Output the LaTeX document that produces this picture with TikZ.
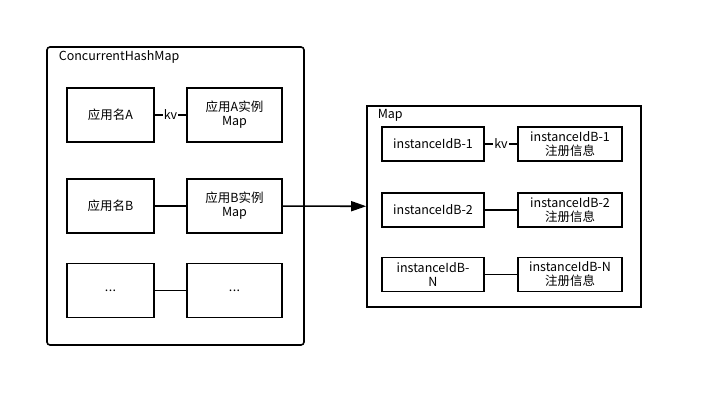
\documentclass[tikz,border=0pt]{standalone}
\usepackage{fontspec}
\setmainfont{Noto Sans CJK SC}
\usepackage{tikz}
\usetikzlibrary{positioning,arrows.meta}

\newcommand{\etcdots}{.\kern0.5pt.\kern0.5pt.}

\tikzset{
	every box/.style={draw, line width=1.6pt, inner sep=1pt, align=center,
		font=\fontsize{12.5}{14}\selectfont},
	app box/.style={every box/.try, minimum width=87pt, minimum height=54pt},
	appmap box/.style={every box/.try, minimum width=95pt, minimum height=54pt},
	key box/.style={every box/.try, minimum width=102pt, minimum height=34pt},
	info box/.style={every box/.try, minimum width=104pt, minimum height=34pt},
	kv label/.style={fill=white, inner sep=1pt, font=\fontsize{12.5}{14}\selectfont},
}

\begin{document}
\begin{tikzpicture}[x=1pt, y=-1pt, line width=1.6pt]
		\useasboundingbox (0,0) rectangle (702,407);
		
		% containers
		\node [draw, rounded corners=3pt, minimum width=257pt, minimum height=298pt] (chm) at (175.5,196) {};
		\node [draw, minimum width=274pt, minimum height=201pt] (map) at (504,206.5) {};
		\node [anchor=north west, inner sep=0pt, font=\fontsize{12.5}{14}\selectfont] (chm-title) at (58,49.5) {ConcurrentHashMap};
		\node [anchor=north west, inner sep=0pt, font=\fontsize{12.5}{14}\selectfont] (map-title) at (377,109) {Map};
		
		% application names -> instance maps
		\foreach \m/\n/\y in {1/应用名A/115,2/应用名B/206,3/\etcdots/290.5}
		\node [app box] (app-\m) at (110.5,\y) {\n};
		
		\foreach \m/\n/\y in {1/应用A实例\\Map/115,2/应用B实例\\Map/206,3/\etcdots/290.5}
		\node [appmap box] (appmap-\m) at (234.5,\y) {\n};
		
		\draw (app-1) -- (appmap-1) node [kv label, midway] {kv};
		\foreach \i in {2,3}
		\draw (app-\i) -- (appmap-\i);
		
		% instance ids -> registry info
		\foreach \m/\n/\y in {1/instanceIdB-1/144,2/instanceIdB-2/210,3/instanceIdB-\\N/274.5}
		\node [key box] (key-\m) at (433,\y) {\n};
		
		\foreach \m/\n/\y in {1/instanceIdB-1/144,2/instanceIdB-2/210,3/instanceIdB-N/274.5}
		\node [info box] (info-\m) at (570,\y) {\n\\注册信息};
		
		\draw (key-1) -- (info-1) node [kv label, midway] {kv};
		\foreach \i in {2,3}
		\draw (key-\i) -- (info-\i);
		
		\draw [-{Triangle[length=15pt,width=10pt]}] (appmap-2) -- (map);
		
		\end{tikzpicture}
\end{document}
